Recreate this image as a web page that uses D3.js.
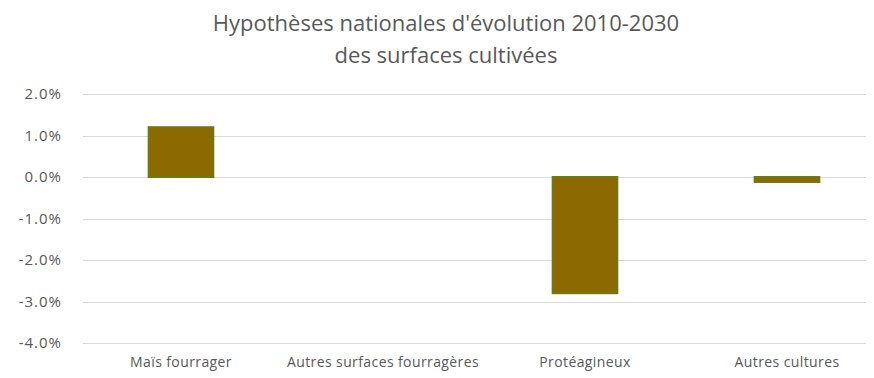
<!DOCTYPE html>
<html><head><meta charset="utf-8">
<script src="https://cdn.jsdelivr.net/npm/d3@7"></script>
<style>body{margin:0;background:#fff}svg{display:block}</style>
</head><body>
<script>
const categories = ["Maïs fourrager","Autres surfaces fourragères","Protéagineux","Autres cultures"];
const values = [1.2, 0.0, -2.8, -0.12];
const yTicks = [2,1,0,-1,-2,-3,-4];
const titleLines = ["Hypothèses nationales d'évolution 2010-2030","des surfaces cultivées"];

const W=874,H=378;
const svg=d3.select("body").append("svg").attr("width",W).attr("height",H);
const gridL=83, gridR=866;
const x=d3.scaleBand().domain(categories).range([80,888]).paddingInner(0.68).paddingOuter(0.34);
const y=d3.scaleLinear().domain([-4,2]).range([343,94]);
const font="'Open Sans', 'Liberation Sans', sans-serif";

svg.append("g").selectAll("line").data(yTicks).join("line")
  .attr("x1",gridL).attr("x2",gridR).attr("y1",d=>Math.round(y(d))+0.5).attr("y2",d=>Math.round(y(d))+0.5)
  .attr("stroke","#d9d9d9").attr("stroke-width",1);

const yAxis=svg.append("g").attr("transform",`translate(${gridL},0)`)
  .call(d3.axisLeft(y).tickValues(yTicks).tickFormat(d=>d.toFixed(1)+"%").tickSize(0).tickPadding(21));
yAxis.select(".domain").remove();
yAxis.selectAll("text").attr("font-family",font).attr("font-size",15).attr("letter-spacing",1)
  .attr("fill","#595959");

const xAxis=svg.append("g").attr("transform",`translate(0,${y(-4)})`)
  .call(d3.axisBottom(x).tickSize(0).tickPadding(14));
xAxis.select(".domain").remove();
xAxis.selectAll("text").attr("font-family",font).attr("font-size",14).attr("letter-spacing",0.4)
  .attr("fill","#595959");

svg.append("g").selectAll("rect").data(categories.map((c,i)=>({c,v:values[i]}))).join("rect")
  .attr("x",d=>x(d.c)).attr("width",x.bandwidth())
  .attr("y",d=>y(Math.max(0,d.v))).attr("height",d=>Math.abs(y(d.v)-y(0)))
  .attr("fill","#8c6a00").attr("stroke","#6f7812").attr("stroke-width",2);

svg.append("g").selectAll("text").data(titleLines).join("text")
  .attr("x",446).attr("y",(d,i)=>31+i*32).attr("text-anchor","middle")
  .attr("font-family",font).attr("font-size",22).attr("fill","#595959").text(d=>d);
</script>
</body></html>
